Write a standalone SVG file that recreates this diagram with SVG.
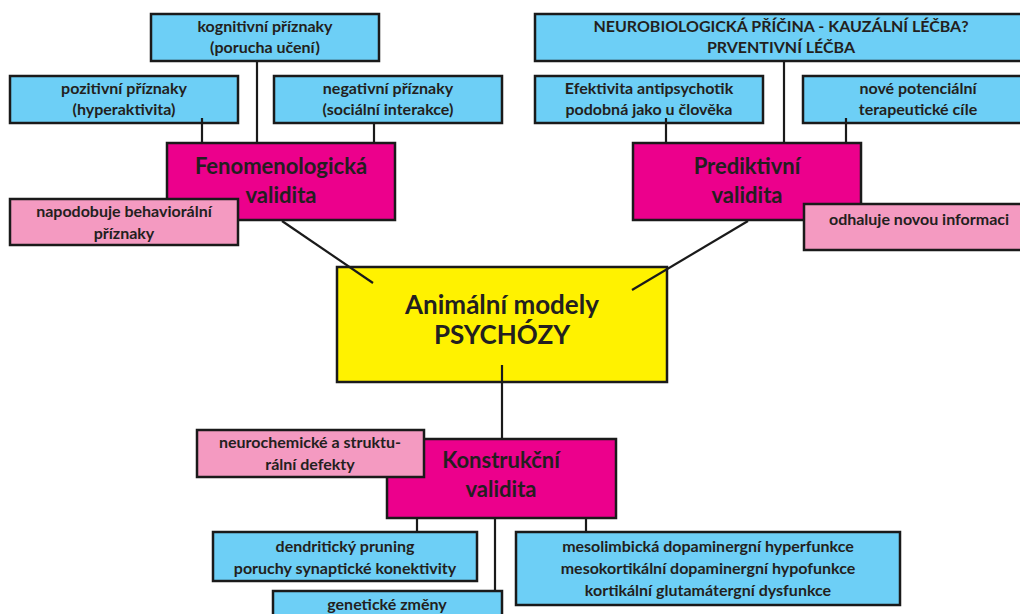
<svg xmlns="http://www.w3.org/2000/svg" width="1020" height="614" viewBox="0 0 1020 614">
<style>
.b{fill:#6dcff6;stroke:#1a1a1a;stroke-width:2.5}
.m{fill:#ec008c;stroke:#1a1a1a;stroke-width:2.5}
.p{fill:#f49ac1;stroke:#1a1a1a;stroke-width:2.5}
.y{fill:#fff200;stroke:#1a1a1a;stroke-width:2.5}
text{font-family:Lato,"Open Sans","Liberation Sans",sans-serif;fill:#231f20;text-anchor:middle}
.s{font-size:16px;font-weight:bold}
.t{font-size:22px;font-weight:bold}
.c{font-size:26px;font-weight:bold}
.k{stroke:#1a1a1a;stroke-width:2.2;fill:none}
</style>
<rect width="1020" height="614" fill="#fff"/>
<g id="kognitivni"><rect class="b" x="151" y="14" width="228" height="47"/><text class="s" x="265" y="32">kognitivní příznaky</text><text class="s" x="265" y="53">(porucha učení)</text></g>
<g id="pozitivni"><rect class="b" x="10" y="76" width="228" height="47"/><text class="s" x="124" y="94">pozitivní příznaky</text><text class="s" x="124" y="115">(hyperaktivita)</text></g>
<g id="negativni"><rect class="b" x="274" y="76" width="228" height="47"/><text class="s" x="388" y="94">negativní příznaky</text><text class="s" x="388" y="115">(sociální interakce)</text></g>
<g id="fenomenologicka"><rect class="m" x="167" y="143" width="228" height="77"/><text class="t" x="281" y="174">Fenomenologická</text><text class="t" x="281" y="203">validita</text></g>
<g id="napodobuje"><rect class="p" x="10" y="199" width="228" height="46"/><text class="s" x="124" y="217">napodobuje behaviorální</text><text class="s" x="124" y="239">příznaky</text></g>
<g id="neurobiologicka"><rect class="b" x="535" y="14" width="495" height="47"/><text class="s" x="781" y="32">NEUROBIOLOGICKÁ PŘÍČINA - KAUZÁLNÍ LÉČBA?</text><text class="s" x="781" y="53">PRVENTIVNÍ LÉČBA</text></g>
<g id="efektivita"><rect class="b" x="535" y="76" width="228" height="47"/><text class="s" x="649" y="94">Efektivita antipsychotik</text><text class="s" x="649" y="115">podobná jako u člověka</text></g>
<g id="nove"><rect class="b" x="803" y="76" width="230" height="47"/><text class="s" x="918" y="94">nové potenciální</text><text class="s" x="918" y="115">terapeutické cíle</text></g>
<g id="prediktivni"><rect class="m" x="633" y="143" width="228" height="77"/><text class="t" x="747" y="174">Prediktivní</text><text class="t" x="747" y="203">validita</text></g>
<g id="odhaluje"><rect class="p" x="804" y="204" width="230" height="46"/><text class="s" x="919" y="225">odhaluje novou informaci</text></g>
<g id="animalni"><rect class="y" x="337" y="267" width="330" height="115"/><text class="c" x="502" y="314">Animální modely</text><text class="c" x="502" y="344">PSYCHÓZY</text></g>
<g id="konstrukcni"><rect class="m" x="387" y="439" width="229" height="79"/><text class="t" x="501" y="468">Konstrukční</text><text class="t" x="501" y="497">validita</text></g>
<g id="neurochemicke"><rect class="p" x="197" y="430" width="227" height="47"/><text class="s" x="310" y="448">neurochemické a struktu-</text><text class="s" x="310" y="470">rální defekty</text></g>
<g id="dendriticky"><rect class="b" x="213" y="532" width="264" height="49"/><text class="s" x="345" y="552">dendritický pruning</text><text class="s" x="345" y="574">poruchy synaptické konektivity</text></g>
<g id="geneticke"><rect class="b" x="273" y="591" width="229" height="40"/><text class="s" x="387" y="610">genetické změny</text></g>
<g id="mesolimbicka"><rect class="b" x="516" y="532" width="384" height="73"/><text class="s" x="708" y="552">mesolimbická dopaminergní hyperfunkce</text><text class="s" x="708" y="574">mesokortikální dopaminergní hypofunkce</text><text class="s" x="708" y="596">kortikální glutamátergní dysfunkce</text></g>
<g id="connectors">
<line class="k" x1="202" y1="118" x2="202" y2="143"/>
<line class="k" x1="257" y1="61" x2="257" y2="143"/>
<line class="k" x1="374" y1="123" x2="374" y2="143"/>
<line class="k" x1="282" y1="221" x2="373" y2="283"/>
<line class="k" x1="666" y1="118" x2="666" y2="143"/>
<line class="k" x1="784" y1="61" x2="784" y2="143"/>
<line class="k" x1="846" y1="118" x2="846" y2="143"/>
<line class="k" x1="748" y1="221" x2="632" y2="290"/>
<line class="k" x1="502" y1="365" x2="502" y2="439"/>
<line class="k" x1="417" y1="518" x2="417" y2="532"/>
<line class="k" x1="495" y1="518" x2="495" y2="591"/>
<line class="k" x1="586" y1="518" x2="586" y2="532"/>
</g>
</svg>
